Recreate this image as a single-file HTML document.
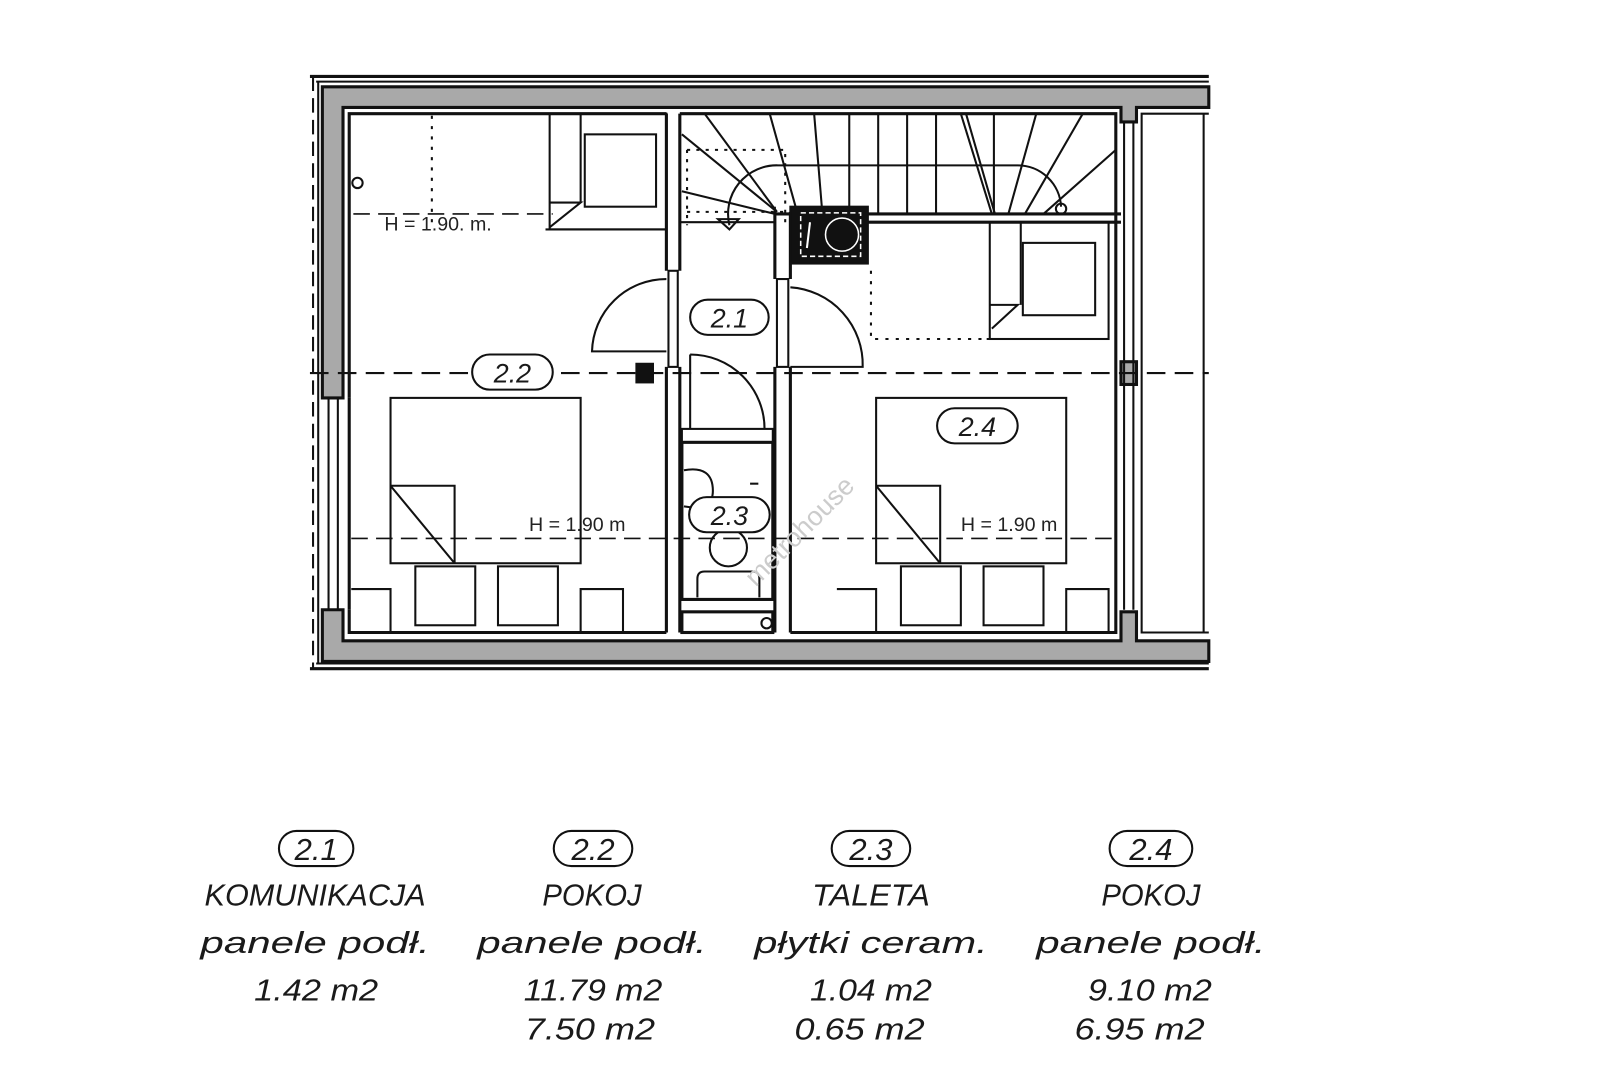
<!DOCTYPE html>
<html><head><meta charset="utf-8"><style>
html,body{margin:0;padding:0;background:#fff;width:1620px;height:1080px;overflow:hidden}
svg{display:block}
.t{font-family:"Liberation Sans",sans-serif;font-style:italic;fill:#1a1a1a;font-size:30px;text-anchor:middle}
.l{font-family:"Liberation Sans",sans-serif;fill:#1a1a1a;font-size:26px;text-anchor:middle;font-style:italic}
.h{font-family:"Liberation Sans",sans-serif;fill:#222;font-size:19px}
</style></head><body>
<svg width="1620" height="1080" viewBox="0 0 1568 1045" preserveAspectRatio="none" xmlns="http://www.w3.org/2000/svg">
<g fill="none" stroke="#111" stroke-width="2">
<!-- outer lines -->
<line x1="300" y1="74" x2="1170" y2="74" stroke-width="3"/>
<line x1="306" y1="79" x2="1170" y2="79"/>
<line x1="300" y1="647" x2="1170" y2="647" stroke-width="3"/>
<line x1="306" y1="642" x2="1170" y2="642"/>
<line x1="303" y1="74" x2="303" y2="647" stroke-dasharray="14,7"/>
<line x1="308" y1="79" x2="308" y2="642"/>
</g>
<!-- gray walls -->
<g fill="#a9a9a9" stroke="#111" stroke-width="3">
<path d="M312,84 H1170 V104 H1100 V118 H1085 V104 H332 V385 H312 Z"/>
<path d="M312,590 H332 V620 H1085 V592 H1100 V620 H1170 V640 H312 Z"/>
<rect x="1085" y="350" width="15" height="22"/>
</g>
<g fill="none" stroke="#111" stroke-width="2">
<!-- left window -->
<line x1="318" y1="385" x2="318" y2="590"/><line x1="327" y1="385" x2="327" y2="590"/>
<!-- right window -->
<line x1="1088" y1="118" x2="1088" y2="590"/><line x1="1097" y1="118" x2="1097" y2="590"/>
<!-- right region -->
<path d="M1170,110 H1105 V612 H1170"/><line x1="1165" y1="110" x2="1165" y2="612"/>
<!-- inner outline -->
<path d="M338,385 V110 H645" stroke-width="3"/>
<path d="M338,590 V612 H645" stroke-width="3"/>
<line x1="338" y1="385" x2="338" y2="590" stroke-width="3"/>
<path d="M658,110 H1080 V612 H765" stroke-width="3"/>
<!-- partition 2.2 / corridor -->
<line x1="645" y1="110" x2="645" y2="262" stroke-width="3"/>
<line x1="658" y1="110" x2="658" y2="262" stroke-width="3"/>
<line x1="645" y1="355" x2="645" y2="612" stroke-width="3"/>
<line x1="658" y1="355" x2="658" y2="612" stroke-width="3"/>
<rect x="647" y="262" width="9" height="93"/>
<!-- partition corridor / 2.4 -->
<line x1="750" y1="205" x2="750" y2="270" stroke-width="3"/>
<line x1="765" y1="205" x2="765" y2="270" stroke-width="3"/>
<line x1="750" y1="355" x2="750" y2="612" stroke-width="3"/>
<line x1="765" y1="355" x2="765" y2="612" stroke-width="3"/>
<rect x="752" y="270" width="11" height="85"/>
<!-- corridor bottoms / toilet -->
<rect x="660" y="415" width="88" height="13"/>
<rect x="660" y="428" width="88" height="152" stroke-width="3"/>
<rect x="660" y="592" width="88" height="20" stroke-width="3"/>
<circle cx="742" cy="603" r="5"/>
<path d="M675,578 V560 Q675,553 682,553 H728 Q735,553 735,560 V578"/>
<ellipse cx="705" cy="530" rx="18" ry="18"/>
<path d="M662,455 Q690,450 690,475 Q690,495 662,490"/>
<line x1="726" y1="468" x2="734" y2="468"/>
<!-- stair -->
<line x1="750" y1="207" x2="1085" y2="207" stroke-width="3"/>
<line x1="765" y1="215" x2="1085" y2="215" stroke-width="3"/>
<line x1="658" y1="215" x2="750" y2="215"/>
<line x1="750" y1="200" x2="750" y2="215"/>
<g stroke-width="2">
<line x1="682" y1="110" x2="752" y2="205"/>
<line x1="745" y1="110" x2="772" y2="207"/>
<line x1="788" y1="110" x2="796" y2="207"/>
<line x1="822" y1="110" x2="822" y2="207"/>
<line x1="850" y1="110" x2="850" y2="207"/>
<line x1="878" y1="110" x2="878" y2="207"/>
<line x1="906" y1="110" x2="906" y2="207"/>
<line x1="930" y1="110" x2="960" y2="207"/>
<line x1="935" y1="110" x2="963" y2="207"/>
<line x1="962" y1="110" x2="962" y2="207"/>
<line x1="1003" y1="110" x2="976" y2="207"/>
<line x1="1048" y1="110" x2="992" y2="207"/>
<line x1="1080" y1="145" x2="1010" y2="207"/>
<line x1="660" y1="185" x2="750" y2="207"/>
<line x1="660" y1="130" x2="752" y2="205"/>
<path d="M706,218 A47,47 0 0 1 753,160 H985 A42,42 0 0 1 1027,200"/>
<circle cx="1027" cy="202" r="5"/>
<path d="M695,212 L715,212 L706,222 Z"/>
</g>
<path d="M665,145 H760 V218 M665,145 V218 M665,205 H760" stroke-dasharray="3,6"/>
<!-- chimney -->
<rect x="765" y="200" width="75" height="55" fill="#111"/>
<rect x="775" y="206" width="58" height="42" stroke="#fff" stroke-width="1.5" stroke-dasharray="5,3"/>
<circle cx="815" cy="227" r="16" fill="#111" stroke="#fff" stroke-width="1.5"/>
<line x1="784" y1="215" x2="781" y2="240" stroke="#fff"/>
<!-- doors -->
<path d="M645,270 A72,72 0 0 0 573,340 H645"/>
<path d="M765,278 A75,75 0 0 1 835,355 H765"/>
<path d="M668,343 A72,72 0 0 1 740,415 M668,343 V415"/>
<!-- top left furniture -->
<rect x="532" y="110" width="113" height="112"/>
<line x1="562" y1="110" x2="562" y2="195"/>
<rect x="566" y="130" width="69" height="70"/>
<path d="M532,196 H562 L532,220"/>
<line x1="418" y1="112" x2="418" y2="222" stroke-dasharray="3,7"/>
<circle cx="346" cy="177" r="5"/>
<line x1="342" y1="207" x2="535" y2="207" stroke-dasharray="16,8" stroke-width="1.5"/>
<line x1="528" y1="222" x2="645" y2="222"/>
<!-- 2.4 wardrobe -->
<rect x="958" y="215" width="115" height="113"/>
<line x1="988" y1="215" x2="988" y2="295"/>
<rect x="990" y="235" width="70" height="70"/>
<path d="M958,295 H985 L960,318"/>
<path d="M843,262 V328 H955" stroke-dasharray="3,7"/>
<line x1="955" y1="328" x2="1073" y2="328"/>
<!-- beds -->
<g id="bed">
<rect x="378" y="385" width="184" height="160"/>
<path d="M378,470 H440 V545 M378,470 L440,545"/>
<rect x="402" y="548" width="58" height="57"/>
<rect x="482" y="548" width="58" height="57"/>
<path d="M340,570 H378 V612 M562,612 V570 H603 V612"/>
</g>
<use href="#bed" x="470"/>
<!-- dashed lines -->
<line x1="300" y1="361" x2="1170" y2="361" stroke-dasharray="18,9" stroke-width="2"/>
<line x1="340" y1="521" x2="1080" y2="521" stroke-dasharray="16,8" stroke-width="1.5"/>
</g>
<rect x="615" y="351" width="18" height="20" fill="#111"/>
<!-- plan labels -->
<g fill="#fff" stroke="#111" stroke-width="2">
<rect x="457" y="343" width="78" height="34" rx="17"/>
<rect x="668" y="290" width="76" height="34" rx="17"/>
<rect x="907" y="395" width="78" height="34" rx="17"/>
<rect x="667" y="481" width="78" height="34" rx="17"/>
</g>
<text class="l" x="496" y="370">2.2</text>
<text class="l" x="706" y="317">2.1</text>
<text class="l" x="946" y="422">2.4</text>
<text class="l" x="706" y="508">2.3</text>
<text class="h" x="372" y="223">H = 1.90. m.</text>
<text class="h" x="512" y="514">H = 1.90 m</text>
<text class="h" x="930" y="514">H = 1.90 m</text>
<text x="780" y="520" transform="rotate(-45 780 520)" font-family="Liberation Sans,sans-serif" font-size="26" fill="#ccc" text-anchor="middle">metrohouse</text>
<!-- legend -->
<g fill="none" stroke="#111" stroke-width="2">
<rect x="270" y="804" width="72" height="34" rx="17"/>
<rect x="536" y="804" width="76" height="34" rx="17"/>
<rect x="805" y="804" width="76" height="34" rx="17"/>
<rect x="1074" y="804" width="80" height="34" rx="17"/>
</g>
<g class="t">
<text class="t" x="306" y="832">2.1</text>
<text class="t" x="574" y="832">2.2</text>
<text class="t" x="843" y="832">2.3</text>
<text class="t" x="1114" y="832">2.4</text>
<text class="t" x="305" y="876" textLength="214" lengthAdjust="spacingAndGlyphs">KOMUNIKACJA</text>
<text class="t" x="573" y="876" textLength="96" lengthAdjust="spacingAndGlyphs">POKOJ</text>
<text class="t" x="843" y="876" textLength="114" lengthAdjust="spacingAndGlyphs">TALETA</text>
<text class="t" x="1114" y="876" textLength="96" lengthAdjust="spacingAndGlyphs">POKOJ</text>
<text class="t" x="305" y="922" textLength="222" lengthAdjust="spacingAndGlyphs">panele podł.</text>
<text class="t" x="573" y="922" textLength="222" lengthAdjust="spacingAndGlyphs">panele podł.</text>
<text class="t" x="843" y="922" textLength="226" lengthAdjust="spacingAndGlyphs">płytki ceram.</text>
<text class="t" x="1114" y="922" textLength="222" lengthAdjust="spacingAndGlyphs">panele podł.</text>
<text class="t" x="306" y="968" textLength="120" lengthAdjust="spacingAndGlyphs">1.42  m2</text>
<text class="t" x="574" y="968" textLength="134" lengthAdjust="spacingAndGlyphs">11.79  m2</text>
<text class="t" x="843" y="968" textLength="118" lengthAdjust="spacingAndGlyphs">1.04  m2</text>
<text class="t" x="1113" y="968" textLength="120" lengthAdjust="spacingAndGlyphs">9.10  m2</text>
<text class="t" x="571" y="1006" textLength="126" lengthAdjust="spacingAndGlyphs">7.50  m2</text>
<text class="t" x="832" y="1006" textLength="126" lengthAdjust="spacingAndGlyphs">0.65  m2</text>
<text class="t" x="1103" y="1006" textLength="126" lengthAdjust="spacingAndGlyphs">6.95  m2</text>
</g>
</svg>
</body></html>
